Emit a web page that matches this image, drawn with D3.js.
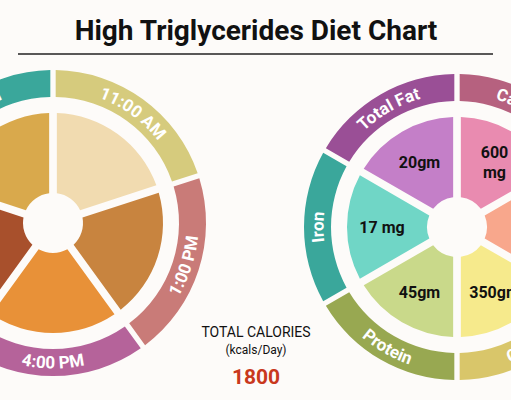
<!DOCTYPE html>
<html>
<head>
<meta charset="utf-8">
<script src="https://cdn.jsdelivr.net/npm/d3@7"></script>
<style>
  body { margin: 0; background: #fdfbf9; }
  svg { display: block; font-family: Roboto, "Noto Sans", sans-serif; }
</style>
</head>
<body>
<svg id="chart" width="511" height="400"></svg>
<script>
// meal wheel (left)
var mealTimes = ['9:00 AM', '11:00 AM', '1:00 PM', '4:00 PM', '7:00 PM'];
var mealRingColors = ['#3aa79b', '#d6cb7d', '#c97b78', '#b5639a', '#8c6bb0'];
var mealFoodColors = ['#d9a94c', '#f1dbb0', '#c8843f', '#e89138', '#a8502c'];

// nutrient wheel (right)
var nutrients = ['Calcium', 'Sodium', 'Carbs', 'Protein', 'Iron', 'Total Fat'];
var nutrientValues = [['600', 'mg'], ['1500', 'mg'], ['350gm'], ['45gm'], ['17 mg'], ['20gm']];
var nutrientRingColors = ['#b6617f', '#e07a5f', '#d9c66a', '#98a851', '#3aa79b', '#9a4f96'];
var nutrientFillColors = ['#e98bb0', '#f8a78c', '#f6ea8c', '#c9d98a', '#70d6c6', '#c47fc8'];

var totalCalories = '1800';

var svg = d3.select('#chart');
var rOuter = 153, rRingIn = 126, rPie = 110, rHole = 30;

svg.append('text').attr('x', 256).attr('y', 40).attr('text-anchor', 'middle')
  .attr('font-size', 28).attr('font-weight', 'bold').attr('fill', '#111')
  .text('High Triglycerides Diet Chart');
svg.append('line').attr('x1', 18).attr('x2', 493).attr('y1', 54).attr('y2', 54)
  .attr('stroke', '#222').attr('stroke-width', 1.5);

function arcPath(r, a0, a1) {
  // angles measured clockwise from 12 o'clock
  var p0 = [r * Math.sin(a0), -r * Math.cos(a0)];
  var p1 = [r * Math.sin(a1), -r * Math.cos(a1)];
  var sweep = a1 > a0 ? 1 : 0;
  return 'M' + p0 + 'A' + r + ',' + r + ' 0 0 ' + sweep + ' ' + p1;
}

function wheel(cx, cy, id, labels, ringColors, fillColors, values, start) {
  var g = svg.append('g').attr('transform', 'translate(' + cx + ',' + cy + ')');
  var pie = d3.pie().value(1).sort(null).startAngle(start).endAngle(start + 2 * Math.PI);
  var arcs = pie(labels);
  var ring = d3.arc().innerRadius(rRingIn).outerRadius(rOuter).padAngle(0.035).padRadius(rOuter);
  var inner = d3.arc().innerRadius(rHole).outerRadius(rPie).padAngle(0.07).padRadius(rPie);

  g.selectAll('.ring').data(arcs).enter().append('path')
    .attr('d', ring).attr('fill', function(d, i) { return ringColors[i]; });
  g.selectAll('.inner').data(arcs).enter().append('path')
    .attr('d', inner).attr('fill', function(d, i) { return fillColors[i]; });

  var rMid = (rOuter + rRingIn) / 2;
  arcs.forEach(function(d, i) {
    var mid = (d.startAngle + d.endAngle) / 2;
    var bottom = Math.cos(mid) < -0.3;
    var path = bottom
      ? arcPath(rMid + 6, d.endAngle, d.startAngle)
      : arcPath(rMid - 6, d.startAngle, d.endAngle);
    g.append('path').attr('id', id + i).attr('d', path).attr('fill', 'none');
    g.append('text').attr('font-size', 17).attr('font-weight', 'bold').attr('fill', '#fff')
      .append('textPath').attr('href', '#' + id + i)
      .attr('startOffset', '50%').attr('text-anchor', 'middle').text(labels[i]);

    if (values) {
      var c = d3.arc().innerRadius(40).outerRadius(rPie).centroid(d);
      var lines = values[i];
      lines.forEach(function(t, j) {
        g.append('text').attr('x', c[0]).attr('y', c[1] + 6 + (j - (lines.length - 1) / 2) * 20)
          .attr('text-anchor', 'middle').attr('font-size', 16).attr('font-weight', 'bold')
          .attr('fill', '#111').text(t);
      });
    }
  });
}

wheel(53, 223, 'meal', mealTimes, mealRingColors, mealFoodColors, null, -2 * Math.PI / 5);
wheel(457, 227, 'nut', nutrients, nutrientRingColors, nutrientFillColors, nutrientValues, 0);

svg.append('text').attr('x', 256).attr('y', 337).attr('text-anchor', 'middle')
  .attr('font-size', 14).attr('fill', '#111').text('TOTAL CALORIES');
svg.append('text').attr('x', 256).attr('y', 354).attr('text-anchor', 'middle')
  .attr('font-size', 12).attr('fill', '#111').text('(kcals/Day)');
svg.append('text').attr('x', 256).attr('y', 384).attr('text-anchor', 'middle')
  .attr('font-size', 21).attr('font-weight', 'bold').attr('fill', '#c9381d').text(totalCalories);
</script>
</body>
</html>
